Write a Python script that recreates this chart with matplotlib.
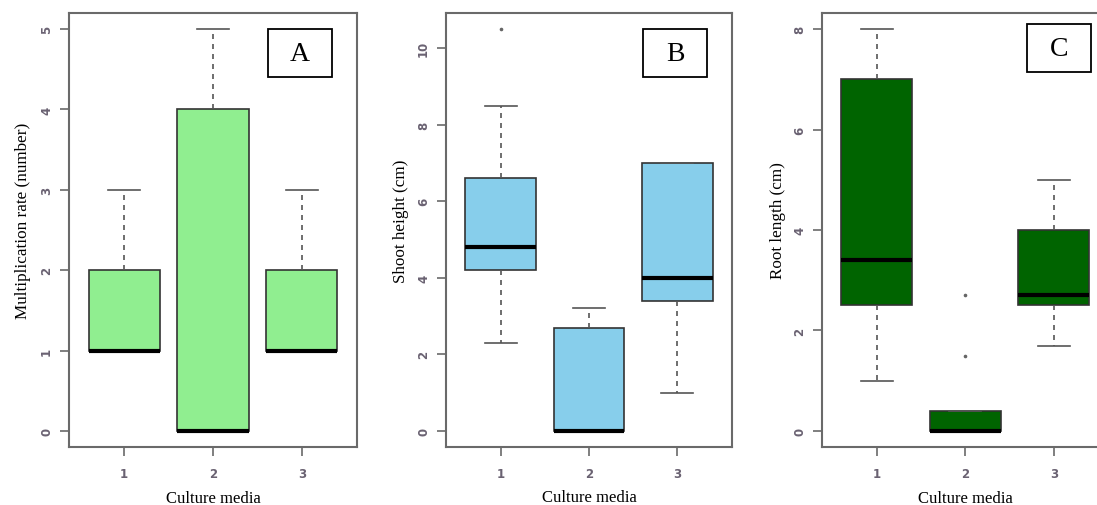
import matplotlib
matplotlib.use("Agg")
import matplotlib.pyplot as plt
from matplotlib.patches import Rectangle

media = [1, 2, 3]

# panel A: multiplication rate
a_low = [1, 0, 1]
a_q1 = [1, 0, 1]
a_med = [1, 0, 1]
a_q3 = [2, 4, 2]
a_high = [3, 5, 3]
a_out = [[], [], []]

# panel B: shoot height
b_low = [2.3, 0, 1.0]
b_q1 = [4.2, 0, 3.4]
b_med = [4.8, 0, 4.0]
b_q3 = [6.6, 2.7, 7.0]
b_high = [8.5, 3.2, 7.0]
b_out = [[10.5], [], []]

# panel C: root length
c_low = [1.0, 0, 1.7]
c_q1 = [2.5, 0, 2.5]
c_med = [3.4, 0, 2.7]
c_q3 = [7.0, 0.4, 4.0]
c_high = [8.0, 0.4, 5.0]
c_out = [[], [1.5, 2.7], []]

panels = [
    ("A", "Multiplication rate (number)", a_low, a_q1, a_med, a_q3, a_high, a_out,
     "#90EE90", (-0.2, 5.2), [0, 1, 2, 3, 4, 5]),
    ("B", "Shoot height (cm)", b_low, b_q1, b_med, b_q3, b_high, b_out,
     "#87CEEB", (-0.42, 10.92), [0, 2, 4, 6, 8, 10]),
    ("C", "Root length (cm)", c_low, c_q1, c_med, c_q3, c_high, c_out,
     "#006400", (-0.32, 8.32), [0, 2, 4, 6, 8]),
]

lefts = [0.0629, 0.4066, 0.7493]
widths = [0.2625, 0.2607, 0.2614]
tag_x = [0.691, 0.689, 0.715]
tag_y = [0.8525, 0.8525, 0.864]
xlab_y = [-0.117, -0.115, -0.118]
ylab_x = [-0.160, -0.158, -0.154]

serif = ["Liberation Serif", "DejaVu Serif"]
frame_col = "#6a6a6a"

fig = plt.figure(figsize=(10.97, 5.06), dpi=100)

for i, (tag, ylab, lo, q1, med, q3, hi, out, col, ylim, yt) in enumerate(panels):
    ax = fig.add_axes([lefts[i], 0.1146, widths[i], 0.8577])
    stats = []
    for k in range(3):
        stats.append({"whislo": lo[k], "q1": q1[k], "med": med[k], "q3": q3[k],
                      "whishi": hi[k], "fliers": out[k]})
    ax.bxp(stats, positions=media, widths=0.8, capwidths=0.36, patch_artist=True,
           boxprops=dict(facecolor=col, edgecolor="#333333", linewidth=1.2),
           medianprops=dict(color="black", linewidth=3, solid_capstyle="butt"),
           whiskerprops=dict(color="#555555", linewidth=1.2, linestyle=(0, (3, 3))),
           capprops=dict(color="#555555", linewidth=1.2),
           flierprops=dict(marker="o", markersize=1.6, markerfacecolor="#666666",
                           markeredgecolor="#666666"))
    ax.set_xlim(0.38, 3.62)
    ax.set_ylim(*ylim)
    ax.set_xticks(media)
    ax.set_xticklabels([str(m) for m in media], fontweight="bold")
    ax.set_yticks(yt)
    ax.set_yticklabels([str(v) for v in yt], rotation=90, va="center", fontweight="bold")
    ax.tick_params(length=6.5, width=1.2, color=frame_col, labelsize=8.5,
                   labelcolor="#6a6272")
    ax.tick_params(axis="x", pad=8)
    ax.tick_params(axis="y", pad=5)
    for sp in ax.spines.values():
        sp.set_color(frame_col)
        sp.set_linewidth(1.5)
    ax.set_ylabel(ylab, family=serif, fontsize=12.3, va="center")
    ax.yaxis.set_label_coords(ylab_x[i], 0.523)
    ax.set_xlabel("Culture media", family=serif, fontsize=12, va="center")
    ax.xaxis.set_label_coords(0.5, xlab_y[i])

    ax.add_patch(Rectangle((tag_x[i], tag_y[i]), 0.223, 0.1106, transform=ax.transAxes,
                           facecolor="white", edgecolor="black", linewidth=1.3, zorder=5))
    ax.text(tag_x[i] + 0.1115, tag_y[i] + 0.0553, tag, transform=ax.transAxes,
            ha="center", va="center", family=serif, fontsize=20, zorder=6)

fig.savefig("out.png", dpi=100)
